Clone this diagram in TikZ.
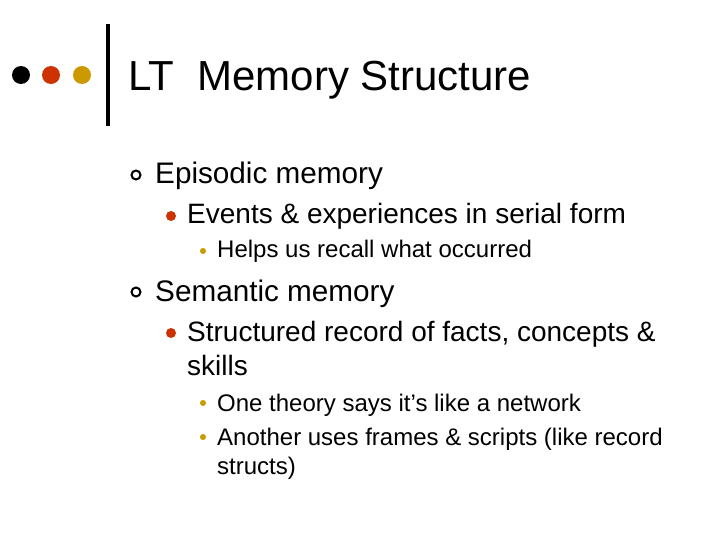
\documentclass[tikz,border=0pt]{standalone}
\usepackage{fontspec}
\setmainfont{Liberation Sans}
\definecolor{rd}{RGB}{204,51,0}
\definecolor{gd}{RGB}{204,153,0}
\begin{document}
\begin{tikzpicture}[x=1pt,y=-1pt,
  t/.style={anchor=base west,inner sep=0pt},
  l1/.style={t,font=\fontsize{29.7}{30}\selectfont},
  l2/.style={t,font=\fontsize{28}{30}\selectfont},
  l3/.style={t,font=\fontsize{24}{30}\selectfont}]
\useasboundingbox[fill=white] (0,0) rectangle (720,540);
\fill[black] (21,75) circle (9);
\fill[rd] (51,75) circle (9);
\fill[gd] (82,75) circle (9);
\draw[line width=4] (108,24) -- (108,126);
\node[t,font=\fontsize{42}{44}\selectfont] (title) at (128,91) {LT\ \ Memory Structure};
\draw[line width=2] (136,175) circle (4.5);
\node[l1] (a) at (155,184) {Episodic memory};
\fill[rd] (171,216) circle (5);
\node[l2] (a1) at (187,224) {Events \& experiences in serial form};
\fill[gd] (203,251) circle (3);
\node[l3] (a2) at (217,258) {Helps us recall what occurred};
\draw[line width=2] (136,292) circle (4.5);
\node[l1] (b) at (155,301) {Semantic memory};
\fill[rd] (171,333) circle (5);
\node[l2] (b1) at (187,341) {Structured record of facts, concepts \&};
\node[l2] (b1b) at (187,375) {skills};
\fill[gd] (203,403) circle (3);
\node[l3] (b2) at (217,411) {One theory says it’s like a network};
\fill[gd] (203,437) circle (3);
\node[l3] (b3) at (217,445) {Another uses frames \& scripts (like record};
\node[l3] (b3b) at (217,474) {structs)};
\end{tikzpicture}
\end{document}
